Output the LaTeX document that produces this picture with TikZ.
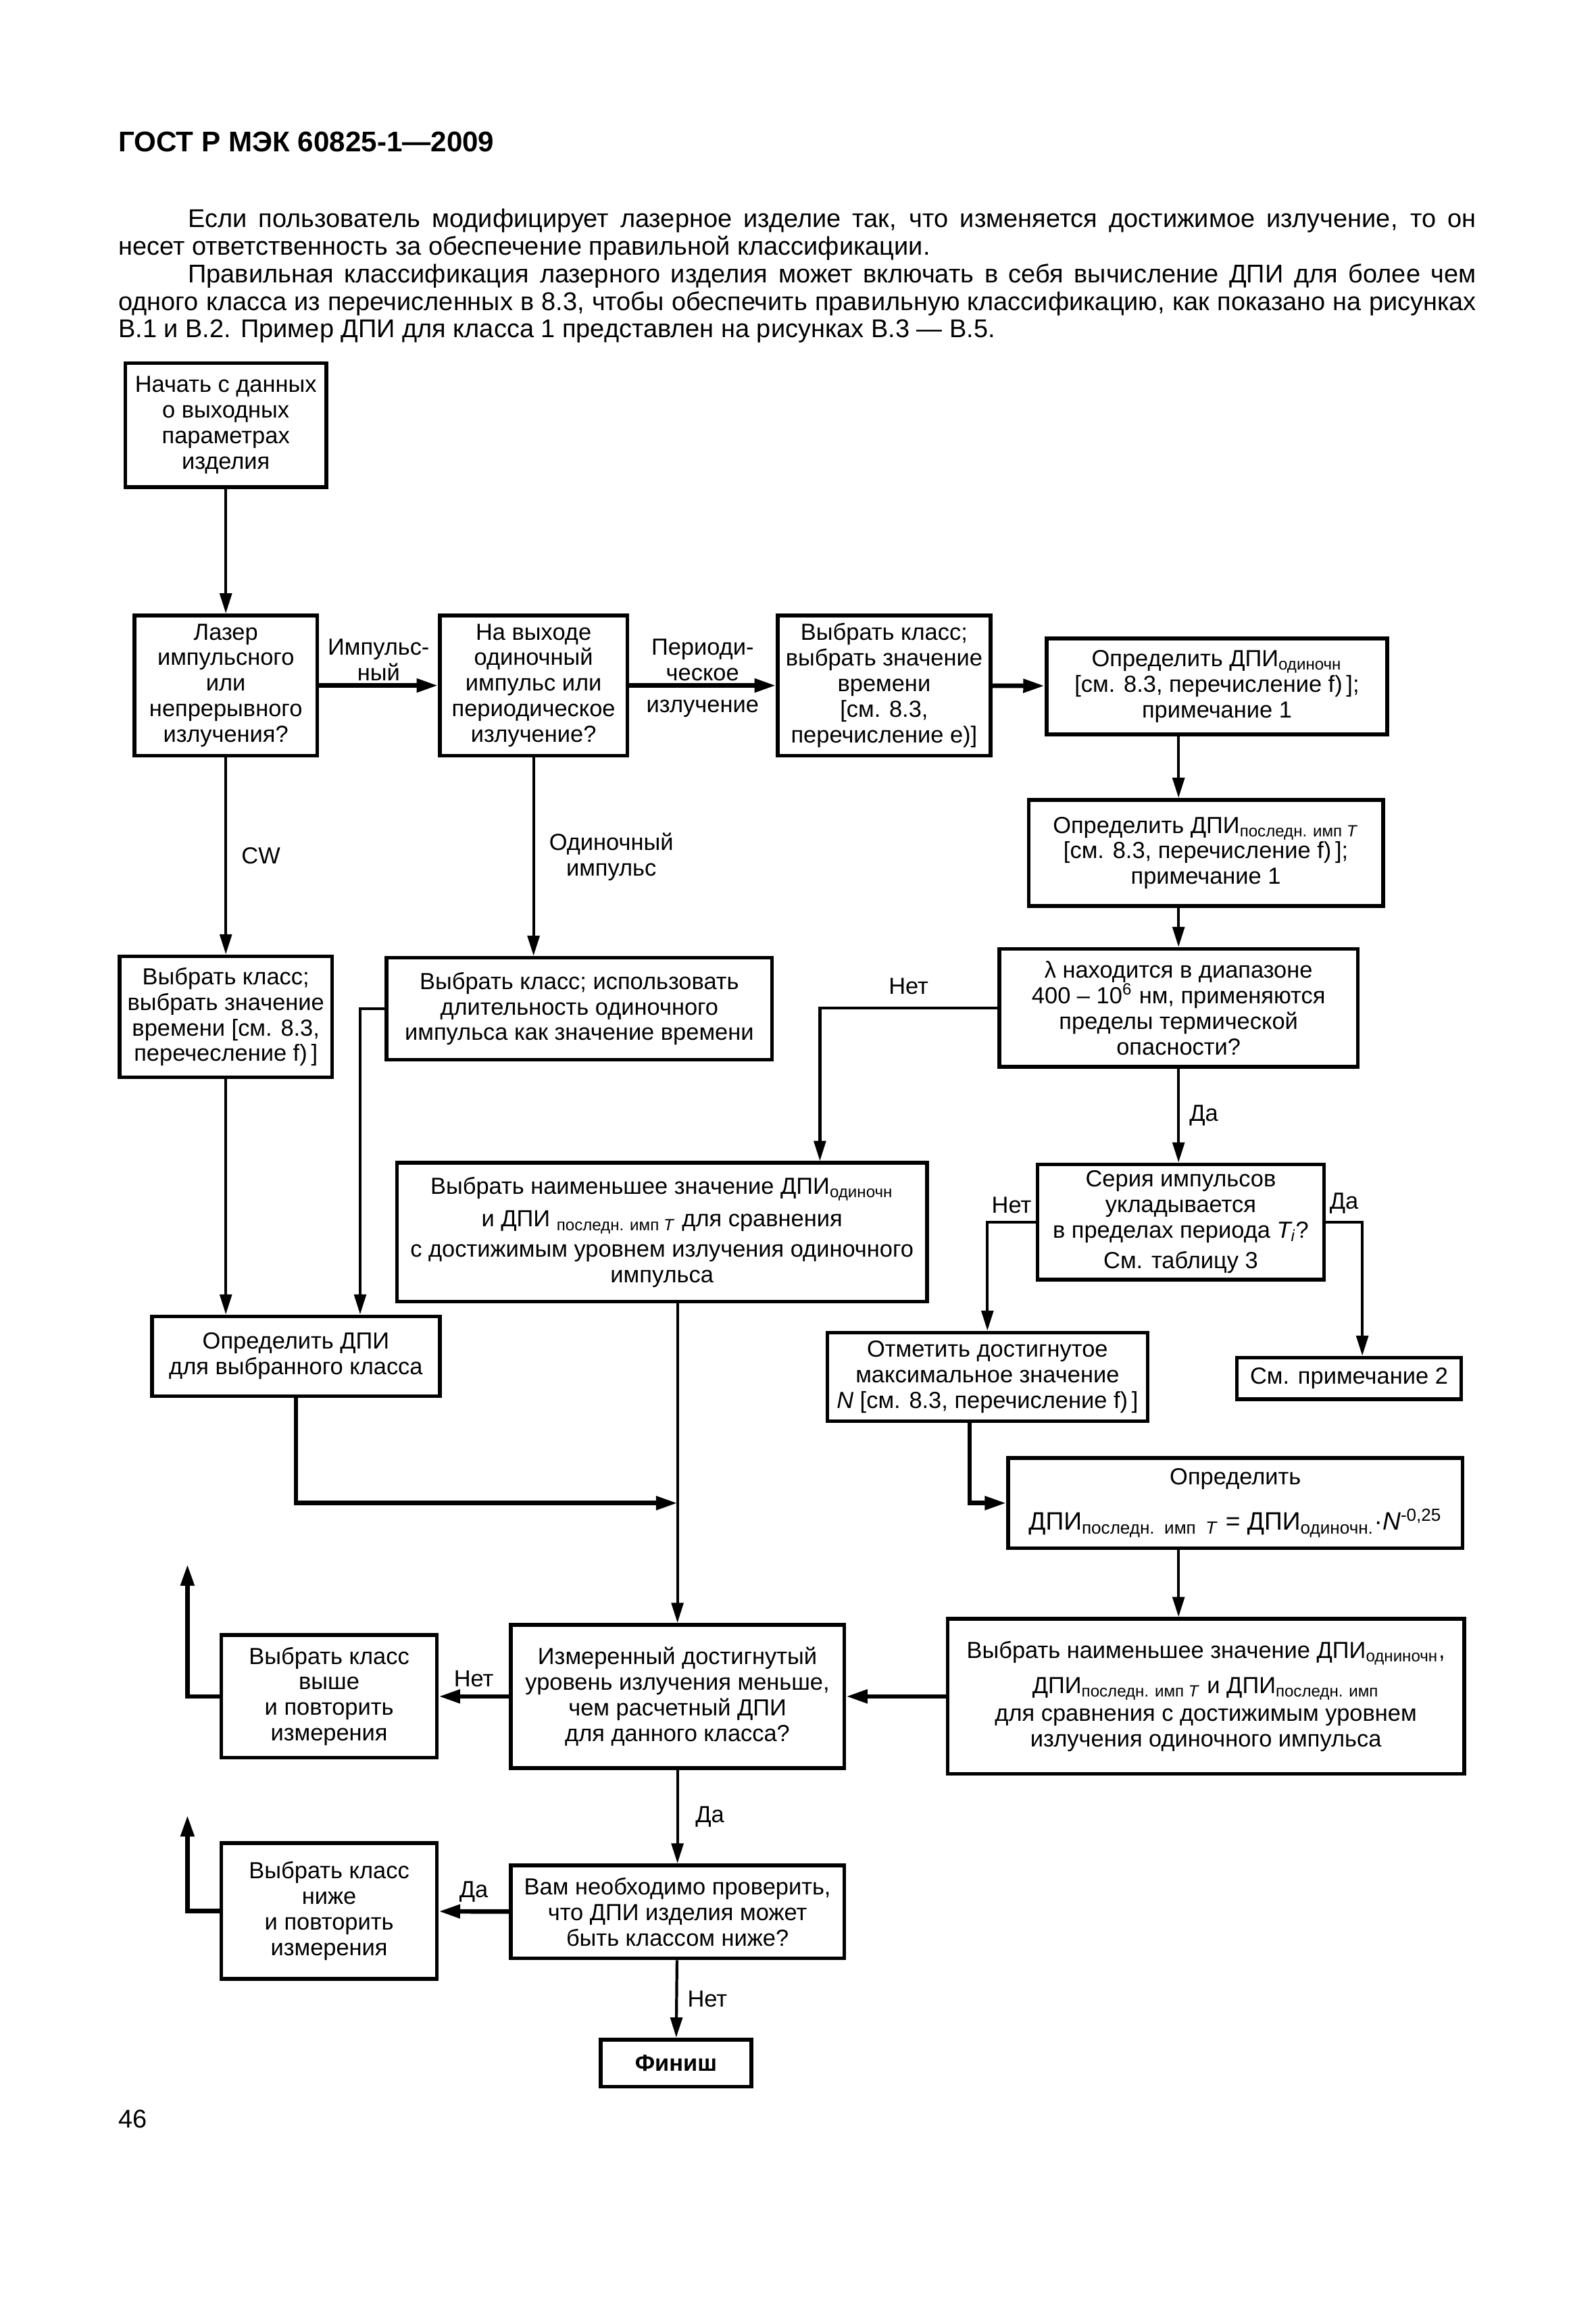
\documentclass[tikz,border=0pt]{standalone}
\usepackage{fontspec}
\setmainfont{Liberation Sans}
\usetikzlibrary{arrows.meta,positioning,calc}
\newcommand{\pxu}{0.02185cm}
\tikzset{main base/.style={draw,line width=1.6pt,text centered,align=center,inner sep=1pt}, }
\tikzset{main node/.style={rectangle,main base,font=\fontsize{9.8}{10.8}\selectfont}, }
\tikzset{boxsize/.style 2 args={minimum width=#1*\pxu,minimum height=#2*\pxu}, }
\tikzset{main verb/.style={inner sep=1pt,align=center,font=\fontsize{9.8}{10.8}\selectfont}, }
\tikzset{linea/.style={-{Triangle[length=8.5pt,width=5pt]},line width=1.2pt,draw}}
\tikzset{linea2/.style={-{Triangle[length=9pt,width=5.5pt]},line width=1.9pt,draw}}
\tikzset{body text/.style={inner sep=0pt,anchor=base west,font=\fontsize{10.8}{11.6}\selectfont}, }

\begin{document}
\begin{tikzpicture}[x=\pxu,y=-\pxu]
  \useasboundingbox (0,0) rectangle (1081,1568);
  % page text
  \node[body text,font=\fontsize{12}{14}\selectfont\bfseries] (h) at (80,103) {ГОСТ Р МЭК 60825-1—2009};
  \node[body text,text width=20.1cm,align=justify] (p1) at (80,154)
    {\hspace*{1.03cm}Если пользователь модифицирует лазерное изделие так, что изменяется достижимое излучение, то он\linebreak
     несет ответственность за обеспечение правильной классификации.};
  \node[body text,text width=20.1cm,align=justify] (p2) at (80,191.5)
    {\hspace*{1.03cm}Правильная классификация лазерного изделия может включать в себя вычисление ДПИ для более чем\linebreak
     одного класса из перечисленных в 8.3, чтобы обеспечить правильную классификацию, как показано на рисунках\linebreak
     В.1 и В.2. Пример ДПИ для класса 1 представлен на рисунках В.3 — В.5.};
  \node[body text] (pg) at (80,1442) {46};
  %
  \node[main node,boxsize={136}{84}] (1) at (153,288) {Начать с данных\\о выходных\\параметрах\\изделия};
  \node[main node,boxsize={124}{95}] (2) at (153,464.5) {Лазер\\импульсного\\или\\непрерывного\\излучения?};
  \node[main node,boxsize={127}{95}] (3) at (361.5,464.5) {На выходе\\одиночный\\импульс или\\периодическое\\излучение?};
  \node[main node,boxsize={144}{95}] (4) at (599,464.5) {Выбрать класс;\\выбрать значение\\времени\\{}[см. 8.3,\\перечисление e)]};
  \node[main node,boxsize={231}{65}] (5) at (824.5,465) {Определить ДПИ\textsubscript{одиночн}\\{}[см. 8.3, перечисление f)\,];\\примечание 1};
  \node[main node,boxsize={240}{72}] (6) at (817,578) {Определить ДПИ\textsubscript{последн. имп \textit{T}}\\{}[см. 8.3, перечисление f)\,];\\примечание 1};
  \node[main node,boxsize={243}{80}] (7) at (798.5,683) {λ находится в диапазоне\\400 – 10\textsuperscript{6} нм, применяются\\пределы термической\\опасности?};
  \node[main node,boxsize={144}{82}] (8) at (153,689) {Выбрать класс;\\выбрать значение\\времени [см. 8.3,\\перечесление f)\,]};
  \node[main node,boxsize={261}{69}] (9) at (392.5,683.5) {Выбрать класс; использовать\\длительность одиночного\\импульса как значение времени};
  \node[main node,boxsize={359}{94}] (10) at (448.5,835) {Выбрать наименьшее значение ДПИ\textsubscript{одиночн}\\[3pt]и ДПИ \textsubscript{последн. имп \textit{T}} для сравнения\\[2pt]с достижимым уровнем излучения одиночного\\импульса};
  \node[main node,boxsize={194}{78}] (11) at (800,828) {Серия импульсов\\укладывается\\в пределах периода \textit{T\textsubscript{i}}?\\[2pt]См. таблицу 3};
  \node[main node,boxsize={195}{54}] (12) at (200.5,919) {Определить ДПИ\\для выбранного класса};
  \node[main node,boxsize={217}{60}] (13) at (669,933) {Отметить достигнутое\\максимальное значение\\\textit{N} [см. 8.3, перечисление f)\,]};
  \node[main node,boxsize={152}{28}] (14) at (914,934) {См. примечание 2};
  \node[main node,boxsize={308}{61}] (15) at (837,1018.5) {Определить\\[7pt]{\fontsize{10.6}{12}\selectfont ДПИ\textsubscript{последн.~~имп~~\textit{T}}\ =\ ДПИ\textsubscript{одиночн.}·\textit{N}\textsuperscript{-0,25}}};
  \node[main node,boxsize={146}{83}] (16) at (223,1149.5) {Выбрать класс\\выше\\и повторить\\измерения};
  \node[main node,boxsize={226}{97}] (17) at (459,1149.5) {Измеренный достигнутый\\уровень излучения меньше,\\чем расчетный ДПИ\\для данного класса?};
  \node[main node,boxsize={350}{105}] (18) at (817,1149.5) {Выбрать наименьшее значение ДПИ\textsubscript{одниночн},\\[4pt]ДПИ\textsubscript{последн. имп \textit{T}} и ДПИ\textsubscript{последн. имп}\\[1pt]для сравнения с достижимым уровнем\\излучения одиночного импульса};
  \node[main node,boxsize={146}{92}] (19) at (223,1295) {Выбрать класс\\ниже\\и повторить\\измерения};
  \node[main node,boxsize={226}{63}] (20) at (459,1295.5) {Вам необходимо проверить,\\что ДПИ изделия может\\быть классом ниже?};
  \node[main node,boxsize={102}{32},font=\fontsize{9.8}{10.8}\selectfont\bfseries] (21) at (458,1398) {Финиш};
  \coordinate (u1) at (127,1060);
  \coordinate (u2) at (127,1230);
  %
  \foreach \x/\y in {1/2,10/17}
    \draw[linea] (\x.south -| \y) -- (\y);
  \foreach \x/\y in {4/5,18/17}
    \path[linea2] (\x) edge (\y);
  \path[linea2] (2) edge node[main verb,above] (22) {Импульс-\\ный} (3);
  \path[linea2] (3) edge node[main verb,above] (23) {Периоди-\\ческое} node[main verb,below=4pt] (24) {излучение} (4);
  \path[linea] (2) edge node[main verb,right=5pt] (25) {CW} (8);
  \draw[linea] (3) -- node[main verb,right=5pt] (26) {Одиночный\\импульс} (3 |- 9.north);
  \draw[linea] (5.south -| 7) -- (6.north -| 7);
  \draw[linea] (6.south -| 7) -- (7);
  \draw[linea] (7) -- node[main verb,right=3pt] (27) {Да} (7 |- 11.north);
  \draw[linea] (7.west) -| node[main verb,above=4pt,pos=0.25] (28) {Нет} ($(10.north)+(107,0)$);
  \draw[linea] (8) -- (8 |- 12.north);
  \draw[linea] (9.west) -| ($(12.north)+(43.5,0)$);
  \draw[linea2] (12) |- (17 |- 15);
  \draw[linea] (11.west) -| node[main verb,above=2pt,pos=0.25] (29) {Нет} (13);
  \draw[linea] (11.east) -| node[main verb,above=2pt,pos=0.25] (30) {Да} ($(14.north)+(9,0)$);
  \draw[linea2] ($(13.south)+(-12,0)$) |- (15);
  \draw[linea] (15.south -| 7) -- (18.north -| 7);
  \path[linea2] (17) edge node[main verb,above=2pt] (31) {Нет} (16);
  \draw[linea2] (16) -| (u1);
  \path[linea] (17) edge node[main verb,right=6pt] (32) {Да} (20);
  \path[linea2] (20) edge node[main verb,above=2pt] (33) {Да} (19);
  \draw[linea2] (19) -| (u2);
  \path[linea] (20) edge node[main verb,right=3pt] (34) {Нет} (21);
\end{tikzpicture}
\end{document}
